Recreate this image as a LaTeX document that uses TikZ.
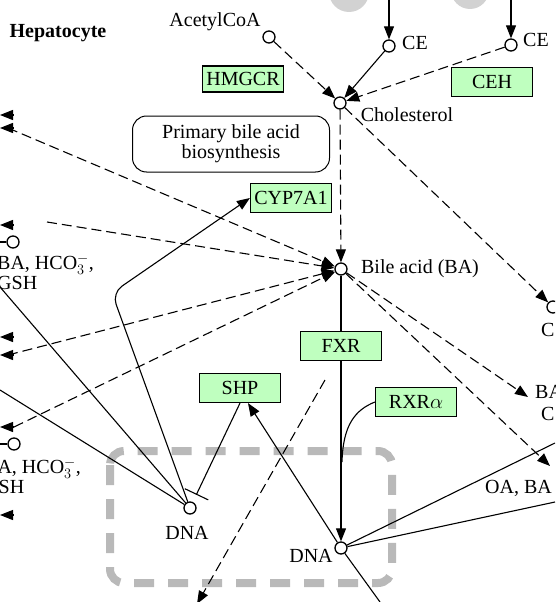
\documentclass[tikz,border=0pt]{standalone}
\usepackage{fontspec}
\setmainfont{Liberation Serif}
\usetikzlibrary{arrows.meta}

\begin{document}
\begin{tikzpicture}[x=1pt,y=-1pt,
  font=\fontsize{20}{20}\selectfont,
  cpd/.style={circle,draw,fill=white,line width=1.3pt,minimum size=12pt,inner sep=0pt},
  gene/.style={draw,fill=green!25,line width=1.2pt,minimum width=81pt,minimum height=29pt,inner sep=0pt},
  rel/.style={line width=1.1pt},
  indirect/.style={line width=1.1pt,dash pattern=on 10pt off 5pt},
  >={Triangle[length=13pt,width=10pt]}]
		\useasboundingbox (0,0) rectangle (555,602);
		\clip (0,0) rectangle (555,602);
		
		% grey blobs at the top
		\fill[gray!35] (349,-8) circle (20);
		\fill[gray!35] (470,-10) circle (19);
		
		% grey dashed region
		\draw[gray!55,line width=8pt,dash pattern=on 20pt off 14pt,rounded corners=14pt] (110,451) rectangle (392,583);
		
		% compounds
		\node[font=\bfseries\fontsize{20}{20}\selectfont] (hep) at (58,33) {Hepatocyte};
		\node[cpd] (acoa) at (269,37) {};
		\node (acoat) at (215,22) {AcetylCoA};
		\node[cpd] (ce1) at (389,46) {};
		\node (ce1t) at (415,43) {CE};
		\node[cpd] (ce2) at (511,45) {};
		\node (ce2t) at (536,40) {CE};
		\node[cpd] (chol) at (340,103) {};
		\node (cholt) at (407,115) {Cholesterol};
		\node[cpd] (ba) at (341,269) {};
		\node (bat) at (420,269) {Bile acid (BA)};
		\node[cpd] (dna1) at (190,508) {};
		\node (dna1t) at (187,533) {DNA};
		\node[cpd] (dna2) at (341,548) {};
		\node (dna2t) at (311,556) {DNA};
		\node[cpd] (lc1) at (13,242) {};
		\node[cpd] (lc2) at (14,444) {};
		\node[cpd] (rc) at (553,307) {};
		
		% genes
		\node[gene,minimum height=26pt] (hmgcr) at (243,79) {HMGCR};
		\node[gene] (ceh) at (492,82) {CEH};
		\node[gene] (cyp) at (291,198) {CYP7A1};
		\node[gene] (fxr) at (341,346) {FXR};
		\node[gene] (shp) at (240,388) {SHP};
		\node[gene] (rxr) at (416,402) {RXR$\alpha$};
		\node[draw,rounded corners=14pt,line width=1pt,minimum width=197pt,minimum height=56pt,align=center] (pbab) at (231,144) {Primary bile acid\\biosynthesis};
		
		% texts cut by the edges
		\node[anchor=west,align=left,inner sep=0pt] (lt1) at (-3,272) {BA, HCO$_3^-$,\\GSH};
		\node[anchor=west,align=left,inner sep=0pt] (lt2) at (-16,476) {BA, HCO$_3^-$,\\GSH};
		\node[anchor=west,inner sep=0pt] (oat) at (485,488) {OA, BA};
		\node[anchor=west,inner sep=0pt] (bart) at (535,392) {BA};
		\node[anchor=west,inner sep=0pt] (ct2) at (541,414) {C};
		\node[anchor=west,inner sep=0pt] (ct1) at (541,330) {C};
		
		% free ends
		\coordinate (ce1in) at (389,0);
		\coordinate (ce2in) at (511,0);
		\coordinate (l1) at (8,128);
		\coordinate (l2) at (47,222);
		\coordinate (l3) at (8,355);
		\coordinate (l4) at (14,427);
		\coordinate (lc1in) at (0,242);
		\coordinate (lc2in) at (0,444);
		\coordinate (s1) at (0,287);
		\coordinate (s2) at (0,390);
		\coordinate (bend) at (112,293);
		\coordinate (dnaout) at (380,602);
		\coordinate (rxrj) at (342,462);
		\coordinate (r1) at (555,443);
		\coordinate (r2) at (555,502);
		\coordinate (bar1) at (528,397);
		\coordinate (bar2) at (550,466);
		\coordinate (d1) at (325,380);
		\coordinate (d2) at (197,604);
		
		% cholesterol
		\draw[rel,->] (ce1in) -- (ce1);
		\draw[rel,->] (ce2in) -- (ce2);
		\draw[indirect,->] (acoa) -- (chol);
		\draw[rel,->] (ce1) -- (chol);
		\draw[indirect,->] (ce2) -- (chol);
		\draw[indirect,->] (chol) -- (ba);
		\draw[indirect,->] (chol) -- (rc);
		
		% bile acid
		\draw[indirect,->] (l1) -- (ba);
		\draw[indirect,->] (l2) -- (ba);
		\draw[indirect,->] (l3) -- (ba);
		\draw[indirect,->] (l4) -- (ba);
		\draw[indirect,->] (ba) -- (bar1);
		\draw[indirect,->] (ba) -- (bar2);
		\foreach \y in {115,128,225,337,355,427,515}
			\draw[rel,->] (13,\y) -- (0,\y);
		\draw[rel] (lc1in) -- (lc1);
		\draw[rel] (lc2in) -- (lc2);
		
		% gene expression
		\draw[rel] (ba) -- (fxr);
		\draw[rel,->] (fxr) -- (dna2);
		\draw[rel] (rxr.west) .. controls (355,410) and (343,425) .. (rxrj);
		\draw[rel,->] (dna2) -- ([xshift=8pt]shp.south);
		\draw[rel] (dna2) -- (dnaout);
		\draw[rel] (dna2) -- (r1);
		\draw[rel] (dna2) -- (r2);
		\draw[rel] (s1) -- (dna1);
		\draw[rel] (s2) -- (dna1);
		\draw[rel,->,rounded corners=12pt] (dna1) -- (bend) -- (cyp.west);
		\draw[rel,-{Bar[width=26pt]},shorten >=8pt] (shp.south) -- (dna1);
		\draw[indirect,->] (d1) -- (d2);
	\end{tikzpicture}
\end{document}
